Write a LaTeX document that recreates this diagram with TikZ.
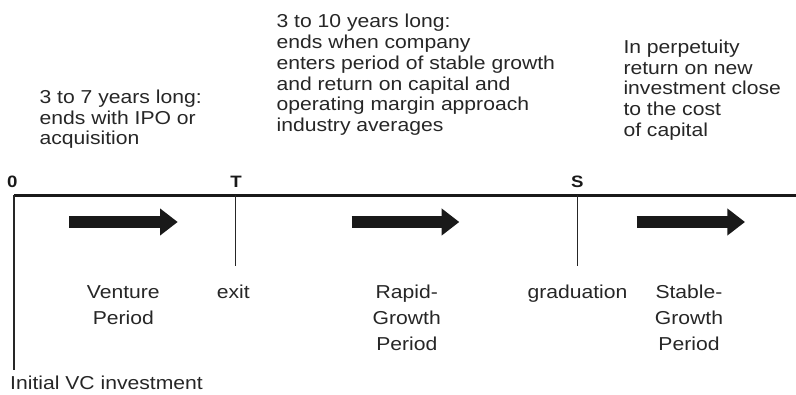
\documentclass[tikz,border=0pt]{standalone}
\usepackage{fontspec}
\setmainfont{Liberation Sans}[FakeStretch=1.13]
\usetikzlibrary{arrows.meta}

\begin{document}
\begin{tikzpicture}[
  x=1pt, y=1pt,
  axis/.style={line width=2.5pt, draw=black!90},
  divider/.style={line width=1.2pt, draw=black!85},
  fatarrow/.style={line width=12pt, draw=black!90, -{Triangle[length=17.7pt, width=26pt]}},
  pointlbl/.style={inner sep=0pt, anchor=base, text=black!90, font=\bfseries\fontsize{16.5}{18}\selectfont},
  blurb/.style={inner sep=0pt, anchor=base west, align=left, text=black!85, font=\fontsize{18.7}{20.8}\selectfont},
  stage/.style={inner sep=0pt, anchor=base, align=center, text=black!85, font=\fontsize{18.7}{26}\selectfont}
]
\useasboundingbox (0,0) rectangle (796,394);

% time line
\coordinate (t0) at (14,198.5);
\coordinate (tT) at (235.3,198.5);
\coordinate (tS) at (577.3,198.5);
\coordinate (tend) at (796,198.5);
\coordinate (d0) at (14,24);
\coordinate (dT) at (235.3,128);
\coordinate (dS) at (577.3,128);
\draw[axis] (t0) -- (tend);
\draw[divider] (t0) -- (d0);
\draw[divider] (tT) -- (dT);
\draw[divider] (tS) -- (dS);

\node[pointlbl] (zero) at (12.3,206.7) {0};
\node[pointlbl] (exitpt) at (236,206.7) {T};
\node[pointlbl] (gradpt) at (577.3,206.7) {S};

% period arrows
\coordinate (v0) at (69.3,172);
\coordinate (v1) at (177.7,172);
\coordinate (r0) at (351.7,172);
\coordinate (r1) at (459.3,172);
\coordinate (s0) at (636.5,172);
\coordinate (s1) at (745,172);
\draw[fatarrow] (v0) -- (v1);
\draw[fatarrow] (r0) -- (r1);
\draw[fatarrow] (s0) -- (s1);

% descriptions above (base = last line)
\node[blurb] (ventnote) at (39.4,249.1) {3 to 7 years long:\\ends with IPO or\\acquisition};
\node[blurb] (rapidnote) at (276.4,262.3) {3 to 10 years long:\\ends when company\\enters period of stable growth\\and return on capital and\\operating margin approach\\industry averages};
\node[blurb] (stablenote) at (623.3,257.5) {In perpetuity\\return on new\\investment close\\to the cost\\of capital};

% names below
\node[stage] (venture) at (123.3,69.7) {Venture\\Period};
\node[stage] (exit) at (233.3,95.7) {exit};
\node[stage] (rapid) at (406.8,43.7) {Rapid-\\Growth\\Period};
\node[stage] (grad) at (577.5,95.7) {graduation};
\node[stage] (stable) at (689,43.7) {Stable-\\Growth\\Period};
\node[blurb] (initvc) at (10,4.7) {Initial VC investment};

\end{tikzpicture}
\end{document}
